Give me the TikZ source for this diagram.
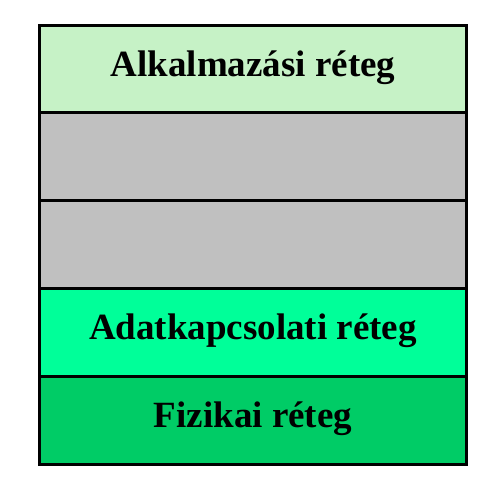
\documentclass[tikz,border=0pt]{standalone}
\usepackage{fontspec}
\setmainfont{Liberation Serif}
\definecolor{appgreen}{HTML}{C6F2C6}
\definecolor{midgray}{HTML}{C0C0C0}
\definecolor{linkgreen}{HTML}{00FF99}
\definecolor{physgreen}{HTML}{00CC66}
\tikzset{
  layer/.style={draw=black, line width=3pt, minimum width=427pt, minimum height=88pt, inner sep=0pt, text height=25pt, text depth=11pt, font=\fontsize{37}{42}\selectfont\bfseries, anchor=north west}
}
\begin{document}
\begin{tikzpicture}[x=1pt,y=-1pt]
\useasboundingbox (0,0) rectangle (500,488);
\node[layer, fill=appgreen] (app) at (38,23.5) {Alkalmazási réteg};
\node[layer, fill=midgray] (g1) at (38,111) {};
\node[layer, fill=midgray] (g2) at (38,199) {};
\node[layer, fill=linkgreen] (link) at (38,287) {Adatkapcsolati réteg};
\node[layer, fill=physgreen] (phys) at (38,375) {Fizikai réteg};
\end{tikzpicture}
\end{document}
